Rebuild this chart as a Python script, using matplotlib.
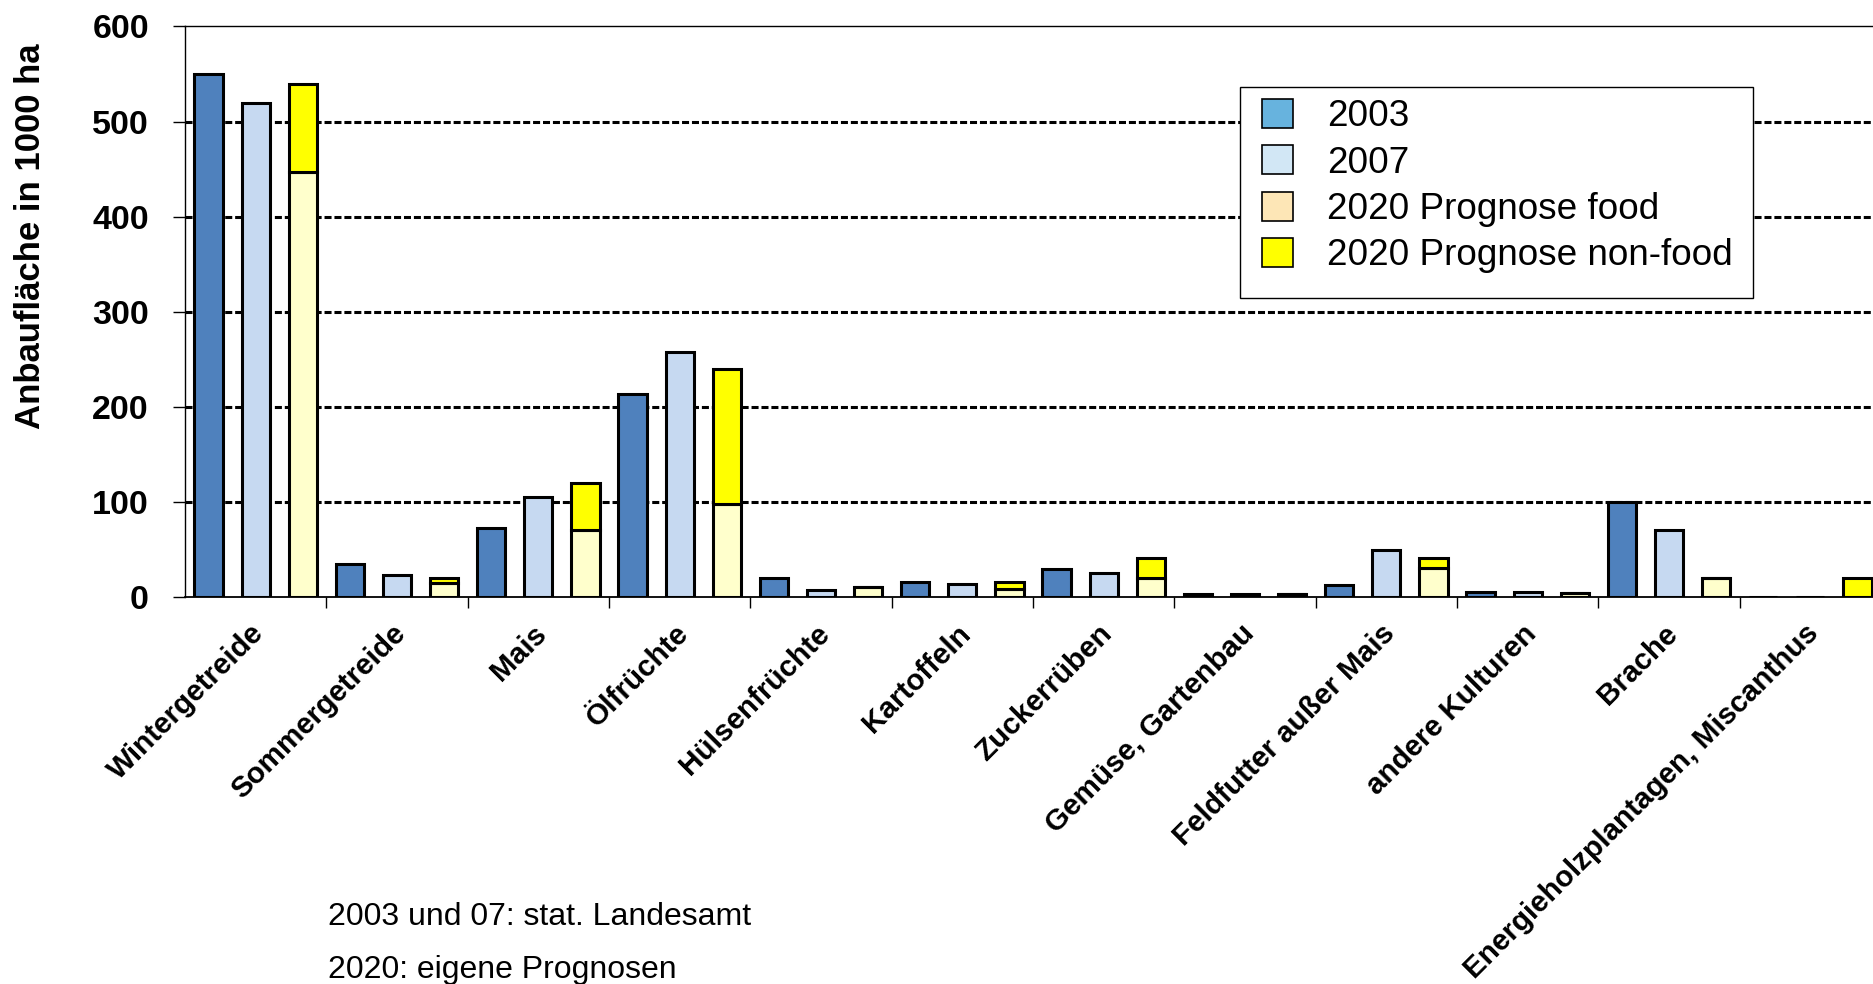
import numpy as np
import matplotlib.pyplot as plt
from matplotlib.patches import Patch, Rectangle

# Anbauflächen in 1000 ha
kulturen = ['Wintergetreide', 'Sommergetreide', 'Mais', 'Ölfrüchte', 'Hülsenfrüchte',
            'Kartoffeln', 'Zuckerrüben', 'Gemüse, Gartenbau', 'Feldfutter außer Mais',
            'andere Kulturen', 'Brache', 'Energieholzplantagen, Miscanthus']
flaeche_2003 = [550, 35, 73, 213, 20, 16, 29, 3, 13, 5, 100, 0]
flaeche_2007 = [520, 23, 105, 258, 7, 14, 25, 3, 49, 5, 70, 0]
prognose_food = [447, 15, 70, 98, 11, 8, 20, 3, 31, 4, 20, 0]
prognose_nonfood = [93, 5, 50, 142, 0, 8, 21, 0, 10, 0, 0, 20]

legend_labels = ['2003', '2007', '2020 Prognose food', '2020 Prognose non-food']
legend_colors = ['#67B3DE', '#D2E7F5', '#FDE6B6', '#FFFF00']

plt.rcParams['font.family'] = ['Liberation Sans', 'DejaVu Sans']

fig = plt.figure(figsize=(18.74, 9.84), dpi=100)
ax = fig.add_axes([185 / 1874, 1 - 597 / 984, 1696 / 1874, 570.5 / 984])

n = len(kulturen)
x0 = np.arange(n) * 3 + 0.5
w = 0.6
kw = dict(width=w, edgecolor='black', linewidth=2.2, zorder=3)
ax.bar(x0, flaeche_2003, color='#4F81BD', **kw)
ax.bar(x0 + 1, flaeche_2007, color='#C6D9F1', **kw)
ax.bar(x0 + 2, prognose_food, color='#FFFFCC', **kw)
ax.bar(x0 + 2, prognose_nonfood, bottom=prognose_food, color='#FFFF00', **kw)

ax.set_xlim(0, 3 * n)
ax.set_ylim(0, 600)

# gestrichelte Hilfslinien
for yv in range(100, 600, 100):
    ax.axhline(yv, color='black', linewidth=2.2, linestyle=(0, (2.3, 0.95)), zorder=1)

for s in ['left', 'top']:
    ax.spines[s].set_linewidth(1.0)
ax.spines['bottom'].set_linewidth(1.3)
ax.spines['bottom'].set_zorder(4)
ax.spines['right'].set_visible(False)

ax.set_yticks(range(0, 700, 100))
ax.tick_params(axis='y', length=9, width=1.0, pad=17, labelsize=24.5)
for lab in ax.get_yticklabels():
    lab.set_fontweight('bold')

ax.set_xticks(np.arange(n) * 3 + 1.5 + 0.3)
ax.set_xticklabels(kulturen, rotation=45, ha='right', fontsize=21.3, fontweight='bold')
ax.set_xticks(np.arange(1, n + 1) * 3, minor=True)
ax.tick_params(axis='x', which='major', length=0, pad=16)
ax.tick_params(axis='x', which='minor', length=8, width=1.0)

fig.text(31 / 1874, 1 - 236 / 984, 'Anbaufläche in 1000 ha', rotation=90,
         ha='center', va='center', fontsize=25, fontweight='bold')

# Legende mit eigenem Rahmen
fig.patches.append(Rectangle((1240 / 1874, 1 - 298 / 984), 513 / 1874, 211 / 984,
                             transform=fig.transFigure, facecolor='white',
                             edgecolor='black', linewidth=1.0, zorder=5))
handles = [Patch(facecolor=c, edgecolor='black', linewidth=1.2) for c in legend_colors]
leg = fig.legend(handles, legend_labels, loc='upper left',
                 bbox_to_anchor=(1262 / 1874, 1 - 99 / 984), frameon=False,
                 fontsize=26.6, borderpad=0, borderaxespad=0, handlelength=0.83,
                 handleheight=0.83, handletextpad=0.92, labelspacing=0.30)
leg.set_zorder(6)

fig.text(328 / 1874, 1 - 925 / 984, '2003 und 07: stat. Landesamt', fontsize=23,
         ha='left', va='baseline')
fig.text(328 / 1874, 1 - 978 / 984, '2020: eigene Prognosen', fontsize=23,
         ha='left', va='baseline')

fig.savefig('out.png', dpi=100)
